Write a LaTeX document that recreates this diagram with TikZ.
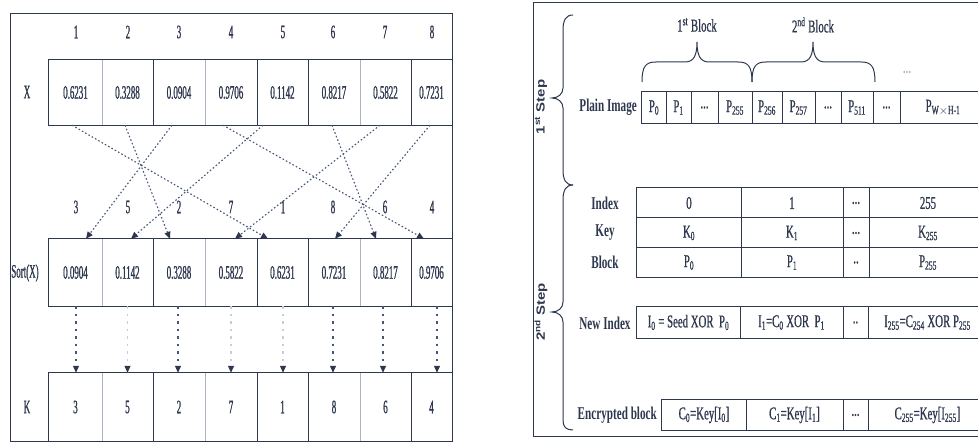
\documentclass[tikz,border=0pt]{standalone}
\usepackage{fontspec}
\setmainfont{Liberation Serif}
\newfontfamily\condf[FakeStretch=0.6,FakeBold=0.8]{Liberation Serif}
\newfontfamily\condl[FakeStretch=0.47,FakeBold=0.9]{Liberation Serif}
\newfontfamily\condbf[FakeStretch=0.62]{Liberation Serif Bold}
\newfontfamily\stepf[FakeStretch=1.25]{Liberation Sans Bold}
\usetikzlibrary{arrows.meta,calc}
\definecolor{ink}{RGB}{45,55,78}
\definecolor{dotc}{RGB}{70,85,118}
\definecolor{faintc}{RGB}{200,205,215}
\definecolor{lightc}{RGB}{170,180,195}
\begin{document}
\begin{tikzpicture}[x=1pt,y=-1pt,
  frm/.style={draw=ink, line width=1pt},
  thin/.style={draw=lightc, line width=0.7pt},
  txt/.style={text=ink, inner sep=0pt, font=\condl\fontsize{19}{19}\selectfont},
  rtxt/.style={text=ink, inner sep=0pt, font=\condf\fontsize{18}{18}\selectfont},
  btxt/.style={text=ink, inner sep=0pt, font=\condbf\fontsize{18}{18}\selectfont},
  cellbox/.style={txt, minimum height=#1},
  rcell/.style={rtxt, minimum height=#1},
  tipA/.style={-{Triangle[length=7pt,width=6pt,color=ink,fill=ink]}},
  crossln/.style={tipA, draw=dotc, line width=1.1pt, dash pattern=on 1.6pt off 2.2pt},
  vertln/.style={tipA, draw=#1, line width=1.1pt, dash pattern=on 2.5pt off 5pt},
  stepl/.style={text=ink, inner sep=0pt, rotate=90, font=\stepf\fontsize{12}{12}\selectfont}
]
\useasboundingbox (0,0) rectangle (978,444);
\clip (0,0) rectangle (978,444);

% ================= LEFT PANEL =================
\draw[frm] (10,14) rectangle (452,441);

% index numbers
\foreach \n/\c in {1/76,2/128,3/179,4/231,5/283,6/333,7/385,8/432}
  \node[txt] (top\n) at (\c,32) {\n};

% X row
\node[txt] (labX) at (27,92) {X};
\foreach \n/\c/\w/\t in {1/75.5/53/0.6231,2/127.5/51/0.3288,3/179/52/0.0904,4/231/52/0.9706,5/282.5/51/0.1142,6/334/52/0.8217,7/385.5/51/0.5822,8/431.5/41/0.7231}
  \node[cellbox=65pt, minimum width=\w pt] (x\n) at (\c,92.5) {\t};
\draw[frm] (x1.north west) rectangle (x8.south east);

% sorted indices
\foreach \n/\c/\t in {1/76/3,2/128/5,3/179/2,4/231/7,5/283/1,6/333/8,7/385/6,8/432/4}
  \node[txt] (si\n) at (\c,207) {\t};

% Sort row
\node[txt] (labS) at (25,273) {Sort(X)};
\foreach \n/\c/\w/\t in {1/75.5/53/0.0904,2/127.5/51/0.1142,3/179/52/0.3288,4/231/52/0.5822,5/282.5/51/0.6231,6/334/52/0.7231,7/385.5/51/0.8217,8/431.5/41/0.9706}
  \node[cellbox=67pt, minimum width=\w pt] (s\n) at (\c,272.5) {\t};
\draw[frm] (s1.north west) rectangle (s8.south east);

% K row
\node[txt] (labK) at (27,407) {K};
\foreach \n/\c/\w/\t in {1/75.5/53/3,2/127.5/51/5,3/179/52/2,4/231/52/7,5/282.5/51/1,6/334/52/8,7/385.5/51/6,8/431.5/41/4}
  \node[cellbox=68pt, minimum width=\w pt] (k\n) at (\c,407) {\t};
\draw[frm] (k1.north west) rectangle (k8.south east);

% dividers
\foreach \r in {x,s,k}{
  \foreach \i in {1,3,6} \draw[thin] (\r\i.north east) -- (\r\i.south east);
  \foreach \i in {2,4,5,7} \draw[frm] (\r\i.north east) -- (\r\i.south east);
}

% crossing arrows X -> Sort(X)
\foreach \a/\sa/\b/\sb in {1/-3.5/5/-14.5, 2/-2.5/3/-9, 3/-7/1/10.5, 4/-8/8/-7.5, 5/-19.5/2/3.5, 6/-2/7/-9.5, 7/-5.5/4/4, 8/-1.5/6/1}
  \draw[crossln] ([xshift=\sa pt]x\a.south) -- ([xshift=\sb pt]s\b.north);

% vertical arrows Sort(X) -> K
\foreach \i/\sh/\c in {1/0.5/dotc, 2/0/faintc, 3/-1/dotc, 4/0/faintc, 5/0.5/faintc, 6/-1/dotc, 7/-2.5/dotc, 8/5.5/dotc}
  \draw[vertln=\c] ([xshift=\sh pt]s\i.south) -- ([xshift=\sh pt]k\i.north);

% ================= RIGHT PANEL =================
\draw[frm] (533,3) rectangle (1000,436);

% step braces
\draw[frm] (573,15) .. controls (566,15) and (563,20) .. (563,30) -- (563,88)
  .. controls (563,94) and (558,98) .. (552,98) .. controls (558,98) and (563,102) .. (563,108)
  -- (563,170) .. controls (563,180) and (566,185) .. (573,185);
\draw[frm] (573,185) .. controls (566,185) and (563,190) .. (563,200) -- (563,302)
  .. controls (563,308) and (558,312) .. (552,312) .. controls (558,312) and (563,316) .. (563,322)
  -- (563,420) .. controls (563,427) and (566,430) .. (573,430);
\node[stepl] (step1) at (541,107) {1\textsuperscript{st} Step};
\node[stepl] (step2) at (541,312) {2\textsuperscript{nd} Step};

% block braces
\draw[frm] (642,82) .. controls (642,66) and (646,62) .. (656,62) -- (685,62)
  .. controls (694,62) and (697,55) .. (697,42) .. controls (697,55) and (700,62) .. (709,62)
  -- (738,62) .. controls (748,62) and (752,66) .. (752,82);
\draw[frm] (752,82) .. controls (752,66) and (756,62) .. (766,62) -- (801,62)
  .. controls (810,62) and (813,55) .. (813,42) .. controls (813,55) and (816,62) .. (825,62)
  -- (861,62) .. controls (871,62) and (875,66) .. (875,82);
\node[rtxt] (blk1) at (697,25) {1\textsuperscript{st} Block};
\node[rtxt] (blk2) at (813,25) {2\textsuperscript{nd} Block};
\node[rtxt, text=lightc] (dotsA) at (907,72) {...};

% plain image row
\node[btxt, anchor=east] (labP) at (637,107.5) {Plain Image};
\foreach \n/\c/\w/\t in {1/654/24/{P\textsubscript{0}},2/678.5/25/{P\textsubscript{1}},3/704.5/27/{...},4/735/34/{P\textsubscript{255}},5/767/30/{P\textsubscript{256}},6/798.5/33/{P\textsubscript{257}},7/828/26/{...},8/857/32/{P\textsubscript{511}},9/886.5/27/{...},10/943/86/{P\textsubscript{W$\times$H-1}}}
  \node[rcell=31pt, minimum width=\w pt] (pc\n) at (\c,107.5) {\t};
\draw[frm] (pc1.north west) rectangle (pc10.south east);
\foreach \i in {1,...,9} \draw[frm] (pc\i.north east) -- (pc\i.south east);

% Index / Key / Block table
\node[btxt] (labI) at (605,203) {Index};
\node[btxt] (labKey) at (605,233) {Key};
\node[btxt] (labB) at (605,262.5) {Block};
\foreach \n/\c/\w/\t in {1/689/104/0,2/792/102/1,3/856/26/{...},4/928/118/255}
  \node[rcell=30pt, minimum width=\w pt] (i\n) at (\c,203) {\t};
\foreach \n/\c/\w/\t in {1/689/104/{K\textsubscript{0}},2/792/102/{K\textsubscript{1}},3/856/26/{...},4/928/118/{K\textsubscript{255}}}
  \node[rcell=30pt, minimum width=\w pt] (kk\n) at (\c,233) {\t};
\foreach \n/\c/\w/\t in {1/689/104/{P\textsubscript{0}},2/792/102/{P\textsubscript{1}},3/856/26/{..},4/928/118/{P\textsubscript{255}}}
  \node[rcell=29pt, minimum width=\w pt] (bb\n) at (\c,262.5) {\t};
\draw[frm] (i1.north west) rectangle (bb4.south east);
\draw[frm] (kk1.north west) -- (kk4.north east);
\draw[frm] (bb1.north west) -- (bb4.north east);
\foreach \i in {1,2,3} \draw[frm] (i\i.north east) -- (bb\i.south east);

% New index row
\node[btxt] (labN) at (605,323) {New Index};
\node[rcell=31pt, minimum width=103pt] (n1) at (688.5,322.5) {I\textsubscript{0} = Seed XOR\ \ P\textsubscript{0}};
\node[rcell=31pt, minimum width=103pt] (n2) at (791.5,322.5) {I\textsubscript{1}=C\textsubscript{0} XOR\ \ P\textsubscript{1}};
\node[rcell=31pt, minimum width=25pt] (n3) at (855.5,322.5) {..};
\node[rcell=31pt, minimum width=119pt] (n4) at (927.5,322.5) {I\textsubscript{255}=C\textsubscript{254} XOR P\textsubscript{255}};
\draw[frm] (n1.north west) rectangle (n4.south east);
\foreach \i in {1,2,3} \draw[frm] (n\i.north east) -- (n\i.south east);

% Encrypted block row
\node[btxt, anchor=east] (labE) at (657,415) {Encrypted block};
\node[rcell=30pt, minimum width=84pt] (e1) at (704,415) {C\textsubscript{0}=Key[I\textsubscript{0}]};
\node[rcell=30pt, minimum width=97pt] (e2) at (794.5,415) {C\textsubscript{1}=Key[I\textsubscript{1}]};
\node[rcell=30pt, minimum width=25pt] (e3) at (855.5,415) {...};
\node[rcell=30pt, minimum width=119pt] (e4) at (927.5,415) {C\textsubscript{255}=Key[I\textsubscript{255}]};
\draw[frm] (e1.north west) rectangle (e4.south east);
\foreach \i in {1,2,3} \draw[frm] (e\i.north east) -- (e\i.south east);
\end{tikzpicture}
\end{document}
